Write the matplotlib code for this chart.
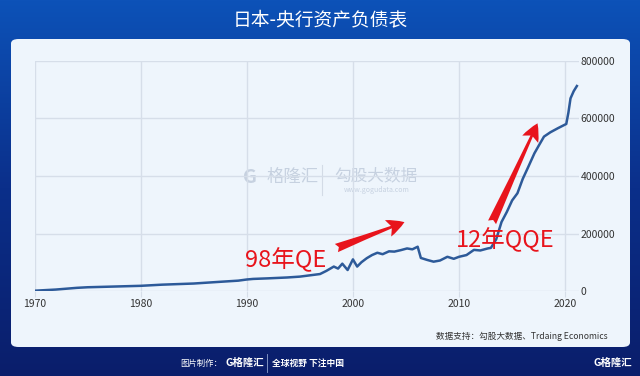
import numpy as np
import matplotlib
matplotlib.use("Agg")
import matplotlib.pyplot as plt
from matplotlib.patches import FancyBboxPatch, FancyArrowPatch
from matplotlib.colors import LinearSegmentedColormap

plt.rcParams["font.family"] = ["Noto Sans CJK SC", "DejaVu Sans"]

# 日本央行资产负债表（亿日元，读图估计）
years = [1970.0, 1972.0, 1974.0, 1975.0, 1977.0, 1980.0, 1982.0, 1985.0, 1987.5,
         1989.2, 1990.0, 1990.6, 1992.0, 1993.8, 1995.0, 1996.9, 1997.5, 1998.2,
         1998.6, 1999.0, 1999.5, 2000.0, 2000.4, 2000.8, 2001.3, 2001.8, 2002.3,
         2002.8, 2003.4, 2003.9, 2004.5, 2005.1, 2005.6, 2006.1, 2006.4, 2007.0,
         2007.6, 2008.2, 2008.9, 2009.5, 2010.0, 2010.7, 2011.4, 2012.0, 2012.7,
         2013.0, 2013.5, 2014.0, 2014.5, 2015.0, 2015.5, 2016.0, 2016.5, 2017.1,
         2017.5, 2018.0, 2018.6, 2019.3, 2020.1, 2020.3, 2020.5, 2020.8, 2021.1]
values = [1000, 5000, 11000, 13000, 15000, 18000, 22000, 26000, 32000,
          36000, 40000, 42000, 44000, 47000, 50000, 59000, 70000, 85000,
          78000, 95000, 73000, 110000, 85000, 100000, 114000, 125000, 133000,
          128000, 138000, 137000, 142000, 148000, 145000, 154000, 115000, 108000,
          102000, 106000, 119000, 112000, 119000, 125000, 143000, 141000, 148000,
          150000, 180000, 240000, 275000, 315000, 340000, 390000, 430000, 479000,
          505000, 537000, 552000, 566000, 581000, 620000, 670000, 695000, 713000]

x_ticks = [1970, 1980, 1990, 2000, 2010, 2020]
y_ticks = [0, 200000, 400000, 600000, 800000]

W, H = 640, 376
fig = plt.figure(figsize=(W / 100, H / 100), dpi=100)

# 背景渐变
bg = fig.add_axes([0, 0, 1, 1])
cmap = LinearSegmentedColormap.from_list("bg", ["#0d52b8", "#0b2f8a", "#0a1e6b"])
grad = np.linspace(0, 1, 256).reshape(-1, 1)
bg.imshow(grad, aspect="auto", cmap=cmap, extent=[0, 1, 0, 1], origin="upper")
bg.set_xlim(0, 1); bg.set_ylim(0, 1)
bg.axis("off")

# 白色面板
panel = FancyBboxPatch((11 / W, 1 - 347 / H), 619 / W, 308 / H,
                       boxstyle="round,pad=0,rounding_size=0.012",
                       transform=fig.transFigure, fc="#eef5fc", ec="none")
bg.add_patch(panel)

fig.text(0.5, 1 - 20 / H, "日本-央行资产负债表", color="white", fontsize=13.5,
         ha="center", va="center")

# 主图
ax = fig.add_axes([34.5 / W, 1 - 291 / H, 544.5 / W, 230 / H])
ax.set_facecolor("none")
ax.plot(years, values, color="#2d5a99", lw=1.8, zorder=3)
ax.set_xlim(1970, 2021.3)
ax.set_ylim(0, 800000)
ax.set_xticks(x_ticks)
ax.set_yticks(y_ticks)
ax.set_yticklabels([str(v) for v in y_ticks])
ax.yaxis.tick_right()
ax.grid(True, color="#d6dee9", lw=1)
for s in ax.spines.values():
    s.set_visible(False)
ax.tick_params(axis="x", length=4, color="#d6dee9", labelsize=7.5,
               labelcolor="#333333", pad=2)
ax.tick_params(axis="y", length=0, labelsize=7.5, labelcolor="#333333", pad=1)

# 水印
wm = "#c6d1e0"
ax.text(1990.3, 396000, "G", fontsize=14, color=wm, ha="center", va="center",
        fontweight="bold", zorder=1)
ax.text(1994.3, 396000, "格隆汇", fontsize=12.5, color=wm, ha="center",
        va="center", zorder=1)
ax.text(2002.2, 400000, "勾股大数据", fontsize=12, color=wm, ha="center",
        va="center", zorder=1)
ax.text(2002.2, 351000, "www.gogudata.com", fontsize=5, color=wm,
        ha="center", va="center", zorder=1)
ax.plot([1997.1, 1997.1], [334000, 438000], color="#d3dbe6", lw=0.8, zorder=1)

# 标注
ax.text(1993.7, 108000, "98年QE", color="#e8141c", fontsize=17, ha="center",
        va="center", zorder=5)
ax.text(2014.3, 177000, "12年QQE", color="#e8141c", fontsize=17, ha="center",
        va="center", zorder=5)
for (x0, y0), (x1, y1) in [((1998.2, 146000), (2005.1, 243000)),
                           ((2013.0, 230000), (2017.5, 592000))]:
    ax.add_patch(FancyArrowPatch((x0, y0), (x1, y1),
                                 arrowstyle="fancy,head_length=0.9,head_width=0.9,tail_width=0.45",
                                 mutation_scale=14, color="#e8141c", lw=0, zorder=5))

# 来源与页脚
fig.text(608 / W, 1 - 336 / H, "数据支持：勾股大数据、Trdaing Economics",
         color="#333333", fontsize=6.2, ha="right", va="center")
fig.text(222 / W, 1 - 363 / H, "图片制作：", color="white", fontsize=6,
         ha="right", va="center")
fig.text(226 / W, 1 - 363 / H, "G格隆汇", color="white", fontsize=7.5,
         ha="left", va="center", fontweight="bold")
fig.text(272 / W, 1 - 363 / H, "全球视野 下注中国", color="white", fontsize=6.3,
         ha="left", va="center", fontweight="bold")
bg.plot([267 / W, 267 / W], [1 - 372 / H, 1 - 354 / H], color="#8fa3cf", lw=0.6)
fig.text(632 / W, 1 - 363 / H, "G格隆汇", color="white", fontsize=7.5,
         ha="right", va="center", fontweight="bold")

fig.savefig("out.png", dpi=100)
